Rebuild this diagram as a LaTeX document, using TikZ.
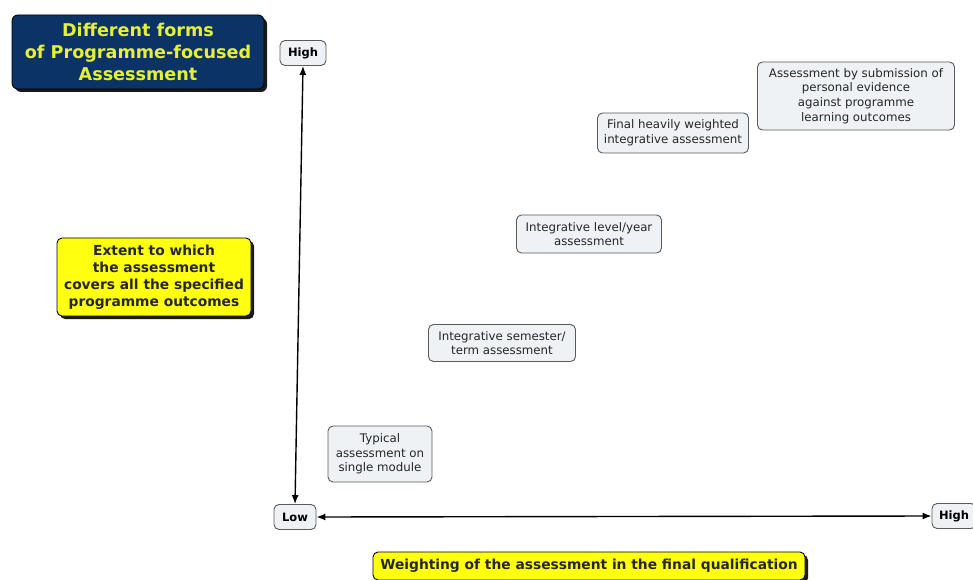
\documentclass[tikz,border=0pt]{standalone}
\usepackage{fontspec}
\setmainfont{DejaVu Sans}
\usetikzlibrary{shadows,arrows.meta}
\definecolor{titleblue}{HTML}{0B3366}
\definecolor{titletext}{HTML}{E6F03A}
\definecolor{hiyellow}{HTML}{FFFF10}
\definecolor{conceptfill}{HTML}{EEF2F4}
\definecolor{conceptline}{HTML}{5A5A5A}
\tikzset{
  concept/.style={draw=conceptline, line width=0.9pt, fill=conceptfill, rounded corners=5pt,
     align=center, font=\fontsize{11.8}{14.6}\selectfont, text=black!85, inner sep=2pt},
  axislabel/.style={draw=conceptline, line width=0.9pt, fill=conceptfill, rounded corners=5pt,
     font=\bfseries\fontsize{11.5}{13}\selectfont, inner sep=2pt, minimum height=25pt},
  yellowbox/.style={draw=black, line width=0.9pt, fill=hiyellow, rounded corners=5pt,
     align=center, font=\bfseries\fontsize{13.8}{17}\selectfont, text=black!85, inner sep=2pt,
     drop shadow={shadow xshift=3pt, shadow yshift=-3pt, fill=black, opacity=0.9}},
  titlebox/.style={draw=black, line width=0.9pt, fill=titleblue, rounded corners=6pt,
     align=center, font=\bfseries\fontsize{17.6}{22}\selectfont, text=titletext, inner sep=2pt,
     drop shadow={shadow xshift=3pt, shadow yshift=-3pt, fill=black, opacity=0.9}},
  axis/.style={line width=1.4pt, {Latex[length=9pt,width=7pt]}-{Latex[length=9pt,width=7pt]}}
}
\begin{document}
\begin{tikzpicture}[x=1pt,y=-1pt]
\useasboundingbox (0,0) rectangle (973,580);
\node[titlebox, minimum width=252pt, minimum height=74pt] (title) at (138,52)
  {Different forms\\of Programme-focused\\Assessment};
\node[axislabel, minimum width=46pt] (vhigh) at (303,53) {High};
\node[axislabel, minimum width=42pt] (low) at (295,517) {Low};
\node[axislabel, minimum width=44pt] (hhigh) at (954,516) {High};
\node[yellowbox, minimum width=194pt, minimum height=78pt] (extent) at (154,277)
  {Extent to which\\the assessment\\covers all the specified\\programme outcomes};
\node[yellowbox, minimum width=432pt, minimum height=28pt] (weight) at (589,566)
  {Weighting of the assessment in the final qualification};
\node[concept, minimum width=104pt, minimum height=56pt] (typical) at (380,454)
  {Typical\\assessment on\\single module};
\node[concept, minimum width=147pt, minimum height=37pt] (semester) at (502,343)
  {Integrative semester/\\term assessment};
\node[concept, minimum width=145pt, minimum height=38pt] (year) at (589,234)
  {Integrative level/year\\assessment};
\node[concept, minimum width=151pt, minimum height=40pt] (final) at (673,133)
  {Final heavily weighted\\integrative assessment};
\node[concept, minimum width=197pt, minimum height=68pt] (evidence) at (856,96)
  {Assessment by submission of\\personal evidence\\against programme\\learning outcomes};
\draw[axis] (vhigh.south) -- (low.north);
\draw[axis] (low.east) -- (hhigh.west);
\end{tikzpicture}
\end{document}
